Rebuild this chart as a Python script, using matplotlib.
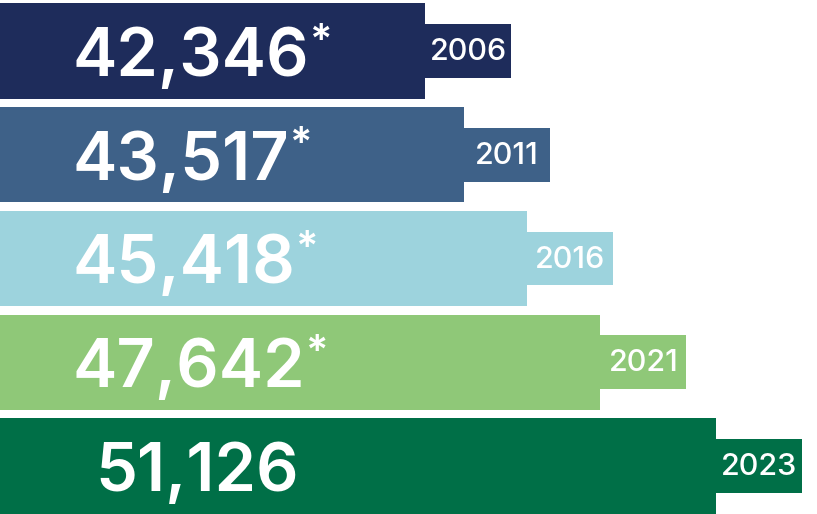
import matplotlib
matplotlib.use("Agg")
import matplotlib.pyplot as plt
import matplotlib.transforms as mtransforms

# ---- data ----
years = ["2006", "2011", "2016", "2021", "2023"]
values = [42346, 43517, 45418, 47642, 51126]
starred = [True, True, True, True, False]
colors = ["#1e2c5b", "#3e6188", "#9dd3dd", "#8fc878", "#006f47"]

W, H = 817, 514
fig = plt.figure(figsize=(W / 100, H / 100), dpi=100)
ax = fig.add_axes([0, 0, 1, 1])
ax.set_xlim(29488, 54193)
ax.set_ylim(4.4627, -0.4916)
ax.axis("off")

tab_w = 2600
ypos = list(range(len(values)))

ax.barh(ypos, values, height=0.92, color=colors, edgecolor="none")
ax.barh(ypos, [tab_w] * len(values), left=values, height=0.52,
        color=colors, edgecolor="none")

trans = mtransforms.blended_transform_factory(ax.transAxes, ax.transData)
for y, v, yr, st in zip(ypos, values, years, starred):
    if st:
        t = ax.text(72 / W, y + 0.24, f"{v:,}", transform=trans, ha="left",
                    va="baseline", color="white", fontsize=48,
                    family="Inter", weight="semibold")
        ax.annotate("*", xy=(1, 1), xycoords=t, xytext=(0, 3),
                    textcoords="offset points", ha="left", va="top",
                    color="white", fontsize=30, family="Inter", weight="semibold")
    else:
        ax.text(197 / W, y + 0.24, f"{v:,}", transform=trans, ha="center",
                va="baseline", color="white", fontsize=48,
                family="Inter", weight="semibold")
    ax.text(v + tab_w / 2, y + 0.01, yr, ha="center", va="center",
            color="white", fontsize=22, family="Inter", weight="medium")

fig.savefig("out.png", dpi=100)
